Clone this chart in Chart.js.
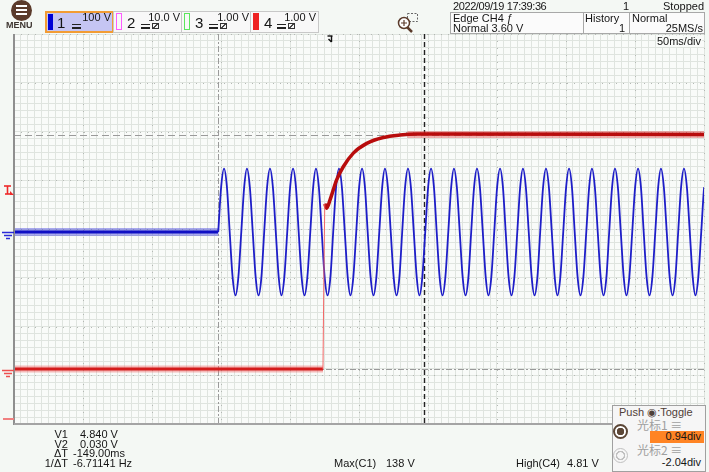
<!DOCTYPE html>
<html>
<head>
<meta charset="utf-8">
<script src="https://cdn.jsdelivr.net/npm/chart.js"></script>
<style>
  body { margin: 0; background: #f4f8f4; }
  #wrap { position: relative; width: 709px; height: 472px; overflow: hidden;
          font-family: "Liberation Sans", Arial, sans-serif; color: #151515; }
  canvas { position: absolute; left: 0; top: 0; }
  .t { position: absolute; font-size: 11px; line-height: 11px; white-space: pre; }
  .b { position: absolute; box-sizing: border-box; }
  .dc { position: absolute; width: 9px; height: 5px; box-sizing: border-box;
        border-top: 1px solid #222; border-bottom: 2px solid #222; }
  .ac { position: absolute; width: 7px; height: 6px; box-sizing: border-box; border: 1px solid #333;
        background: linear-gradient(135deg, transparent 40%, #333 45%, #333 55%, transparent 60%); }
</style>
</head>
<body>
<div id="wrap">
  <canvas id="scope" width="709" height="472"></canvas>

  <!-- menu button -->
  <div class="b" style="left:11px;top:0px;width:21px;height:21px;border-radius:50%;background:#5b3b2b"></div>
  <div class="b" style="left:16px;top:5px;width:11px;height:2px;background:#fff"></div>
  <div class="b" style="left:16px;top:9px;width:11px;height:2px;background:#fff"></div>
  <div class="b" style="left:16px;top:13px;width:11px;height:2px;background:#fff"></div>
  <div class="t" style="left:6px;top:21px;font-size:9px;line-height:9px;font-weight:bold;color:#3e3631">MENU</div>

  <!-- channel boxes -->
  <div class="b" style="left:45px;top:11px;width:69px;height:22px;border:2px solid #f29c34;background:#c5c5f3"></div>
  <div class="b" style="left:48px;top:14px;width:5px;height:16px;background:#0000d6"></div>
  <div class="t" style="left:57px;top:15px;font-size:15px;line-height:15px">1</div>
  <div class="t" style="right:598px;top:12px">100 V</div>
  <div class="dc" style="left:72px;top:24px"></div>

  <div class="b" style="left:113px;top:11px;width:69px;height:22px;border:1px solid #c8c8c8;background:#f8f8f8"></div>
  <div class="b" style="left:116px;top:13px;width:6px;height:17px;border:1px solid #ff5cff"></div>
  <div class="t" style="left:127px;top:15px;font-size:15px;line-height:15px">2</div>
  <div class="t" style="right:529px;top:12px">10.0 V</div>
  <div class="dc" style="left:141px;top:24px"></div>
  <div class="ac" style="left:152px;top:23px"></div>

  <div class="b" style="left:181px;top:11px;width:70px;height:22px;border:1px solid #c8c8c8;background:#f8f8f8"></div>
  <div class="b" style="left:184px;top:13px;width:6px;height:17px;border:1px solid #5ce65c"></div>
  <div class="t" style="left:195px;top:15px;font-size:15px;line-height:15px">3</div>
  <div class="t" style="right:460px;top:12px">1.00 V</div>
  <div class="dc" style="left:209px;top:24px"></div>
  <div class="ac" style="left:220px;top:23px"></div>

  <div class="b" style="left:250px;top:11px;width:69px;height:22px;border:1px solid #c8c8c8;background:#f8f8f8"></div>
  <div class="b" style="left:253px;top:13px;width:6px;height:17px;background:#ee2222"></div>
  <div class="t" style="left:264px;top:15px;font-size:15px;line-height:15px">4</div>
  <div class="t" style="right:393px;top:12px">1.00 V</div>
  <div class="dc" style="left:277px;top:24px"></div>
  <div class="ac" style="left:288px;top:23px"></div>

  <!-- zoom icon -->
  <svg style="position:absolute;left:396px;top:12px" width="24" height="22">
    <rect x="11.5" y="1.5" width="10" height="8" fill="none" stroke="#666" stroke-dasharray="2,1.5"/>
    <path d="M11 15l5 5" stroke="#5b3b2b" stroke-width="2.5"/>
    <circle cx="8" cy="11" r="5.5" fill="#fff" stroke="#5b3b2b" stroke-width="1.5"/>
    <path d="M5 11h6M8 8v6" stroke="#5b3b2b" stroke-width="1.2"/>
  </svg>

  <!-- status -->
  <div class="t" style="left:453px;top:1px;letter-spacing:-0.4px">2022/09/19 17:39:36</div>
  <div class="t" style="left:623px;top:1px">1</div>
  <div class="t" style="right:5px;top:1px">Stopped</div>
  <div class="b" style="left:450px;top:12px;width:255px;height:22px;border:1px solid #a8a8a8;background:#fbfbfb"></div>
  <div class="b" style="left:583px;top:12px;width:1px;height:22px;background:#a8a8a8"></div>
  <div class="b" style="left:629px;top:12px;width:1px;height:22px;background:#a8a8a8"></div>
  <div class="t" style="left:453px;top:13px">Edge CH4 ƒ</div>
  <div class="t" style="left:453px;top:23px">Normal 3.60 V</div>
  <div class="t" style="left:585px;top:13px">History</div>
  <div class="t" style="right:84px;top:23px">1</div>
  <div class="t" style="left:632px;top:13px">Normal</div>
  <div class="t" style="right:6px;top:23px">25MS/s</div>
  <div class="t" style="right:7px;top:36px;background:#f9fbf9;padding:0 1px">50ms/div</div>

  <!-- cursor readouts -->
  <div class="t" style="right:641px;top:429px">V1</div>
  <div class="t" style="left:80px;top:429px">4.840 V</div>
  <div class="t" style="right:641px;top:439px">V2</div>
  <div class="t" style="left:80px;top:439px">0.030 V</div>
  <div class="t" style="right:641px;top:448px">ΔT</div>
  <div class="t" style="left:73px;top:448px">-149.00ms</div>
  <div class="t" style="right:641px;top:458px">1/ΔT</div>
  <div class="t" style="left:73px;top:458px">-6.71141 Hz</div>
  <div class="t" style="left:334px;top:458px">Max(C1)</div>
  <div class="t" style="left:386px;top:458px">138 V</div>
  <div class="t" style="left:516px;top:458px">High(C4)</div>
  <div class="t" style="left:567px;top:458px">4.81 V</div>

  <!-- cursor panel -->
  <div class="b" style="left:612px;top:405px;width:94px;height:67px;border:1px solid #a0a0a0;background:#f6f6f6"></div>
  <div class="t" style="left:619px;top:407px;color:#4f4038">Push ◉:Toggle</div>
  <div class="b" style="left:613px;top:424px;width:15px;height:15px;border-radius:50%;border:2px solid #5b4636;background:radial-gradient(circle,#5b4636 0 3.5px,#fff 4px)"></div>
  <div class="t" style="left:637px;top:419px;font-size:12px;line-height:12px;color:#a0a0a0;font-family:'Noto Sans CJK SC',sans-serif">光标1 ≡</div>
  <div class="b" style="left:650px;top:431px;width:54px;height:12px;background:#ff8424"></div>
  <div class="t" style="right:8px;top:431px">0.94div</div>
  <div class="b" style="left:613px;top:448px;width:15px;height:15px;border-radius:50%;border:1px solid #c0c0c0;background:radial-gradient(circle,#f6f6f6 0 3px,#c0c0c0 3.5px 4.5px,#f6f6f6 5px)"></div>
  <div class="t" style="left:637px;top:444px;font-size:12px;line-height:12px;color:#a0a0a0;font-family:'Noto Sans CJK SC',sans-serif">光标2 ≡</div>
  <div class="t" style="right:8px;top:457px">-2.04div</div>
</div>

<script>
// time in ms (50 ms/div, 10 div on screen)

// CH1, 100 V/div: flat until the switch, then 60 Hz mains (eighth-period samples)
const ch1FlatT = [0, 148];
const ch1FlatV = [0, 0];
const ch1T = [
  148.0, 150.1, 152.2, 154.3, 156.3, 158.4, 160.5, 162.6,
  164.7, 166.8, 168.8, 170.9, 173.0, 175.1, 177.2, 179.3,
  181.3, 183.4, 185.5, 187.6, 189.7, 191.8, 193.8, 195.9,
  198.0, 200.1, 202.2, 204.3, 206.3, 208.4, 210.5, 212.6,
  214.7, 216.8, 218.8, 220.9, 223.0, 225.1, 227.2, 229.3,
  231.3, 233.4, 235.5, 237.6, 239.7, 241.8, 243.8, 245.9,
  248.0, 250.1, 252.2, 254.3, 256.3, 258.4, 260.5, 262.6,
  264.7, 266.8, 268.8, 270.9, 273.0, 275.1, 277.2, 279.3,
  281.3, 283.4, 285.5, 287.6, 289.7, 291.8, 293.8, 295.9,
  298.0, 300.1, 302.2, 304.3, 306.3, 308.4, 310.5, 312.6,
  314.7, 316.8, 318.8, 320.9, 323.0, 325.1, 327.2, 329.3,
  331.3, 333.4, 335.5, 337.6, 339.7, 341.8, 343.8, 345.9,
  348.0, 350.1, 352.2, 354.3, 356.3, 358.4, 360.5, 362.6,
  364.7, 366.8, 368.8, 370.9, 373.0, 375.1, 377.2, 379.3,
  381.3, 383.4, 385.5, 387.6, 389.7, 391.8, 393.8, 395.9,
  398.0, 400.1, 402.2, 404.3, 406.3, 408.4, 410.5, 412.6,
  414.7, 416.8, 418.8, 420.9, 423.0, 425.1, 427.2, 429.3,
  431.3, 433.4, 435.5, 437.6, 439.7, 441.8, 443.8, 445.9,
  448.0, 450.1, 452.2, 454.3, 456.3, 458.4, 460.5, 462.6,
  464.7, 466.8, 468.8, 470.9, 473.0, 475.1, 477.2, 479.3,
  481.3, 483.4, 485.5, 487.6, 489.7, 491.8, 493.8, 495.9,
  498.0, 500.1, 502.2];
const ch1V = [
  0, 92, 130, 92, 0, -92, -130, -92,
  0, 92, 130, 92, 0, -92, -130, -92,
  0, 92, 130, 92, 0, -92, -130, -92,
  0, 92, 130, 92, 0, -92, -130, -92,
  0, 92, 130, 92, 0, -92, -130, -92,
  0, 92, 130, 92, 0, -92, -130, -92,
  0, 92, 130, 92, 0, -92, -130, -92,
  0, 92, 130, 92, 0, -92, -130, -92,
  0, 92, 130, 92, 0, -92, -130, -92,
  0, 92, 130, 92, 0, -92, -130, -92,
  0, 92, 130, 92, 0, -92, -130, -92,
  0, 92, 130, 92, 0, -92, -130, -92,
  0, 92, 130, 92, 0, -92, -130, -92,
  0, 92, 130, 92, 0, -92, -130, -92,
  0, 92, 130, 92, 0, -92, -130, -92,
  0, 92, 130, 92, 0, -92, -130, -92,
  0, 92, 130, 92, 0, -92, -130, -92,
  0, 92, 130, 92, 0, -92, -130, -92,
  0, 92, 130, 92, 0, -92, -130, -92,
  0, 92, 130, 92, 0, -92, -130, -92,
  0, 92, 130, 92, 0, -92, -130, -92,
  0, 92, 130];

// CH4, 1 V/div: low level, fast edge, then settling to the high level
const ch4LowT = [0, 223.9];
const ch4LowV = [0.03, 0.03];
const ch4EdgeT = [223.9, 224.5, 225.2];
const ch4EdgeV = [0.03, 1.8, 3.42];
const ch4RiseT = [225.2, 226.6, 229.0, 233.8, 238.6, 245.9, 255.6, 267.6, 279.7, 291.8, 308.7, 500];
const ch4RiseV = [3.42, 3.33, 3.50, 3.91, 4.18, 4.46, 4.66, 4.78, 4.83, 4.85, 4.85, 4.84];
const ch4HighT = [285, 500];
const ch4HighV = [4.84, 4.84];

// cursors: time cursors (ms) and level cursors (V on CH4)
const cursorT = [297, 148];
const cursorV = [4.84, 0.03];
const triggerT = 229;
const triggerLevel = 3.6;

const pts = (xs, ys) => xs.map((x, i) => ({ x: x, y: ys[i] }));

function seg(ctx, x1, y1, x2, y2) {
  ctx.beginPath();
  ctx.moveTo(x1, y1);
  ctx.lineTo(x2, y2);
  ctx.stroke();
}

function groundMark(ctx, y, color) {
  ctx.strokeStyle = color;
  ctx.lineWidth = 1.5;
  seg(ctx, 2, y, 14, y);
  seg(ctx, 4, y + 3, 12, y + 3);
  seg(ctx, 6, y + 6, 10, y + 6);
}

const scopeDecor = {
  id: 'scopeDecor',
  beforeDraw(chart) {
    const { ctx, chartArea: a } = chart;
    ctx.save();
    ctx.fillStyle = '#f4f8f4';
    ctx.fillRect(0, 0, chart.width, chart.height);
    ctx.fillStyle = '#f9fbf9';
    ctx.fillRect(a.left, a.top, a.right - a.left, a.bottom - a.top);
    ctx.restore();
  },
  beforeDatasetsDraw(chart) {
    const { ctx, chartArea: a, scales } = chart;
    ctx.save();
    // major divisions, faint dotted
    ctx.strokeStyle = '#b4b8b4';
    ctx.lineWidth = 1;
    ctx.setLineDash([1, 6]);
    scales.xMajor.ticks.forEach(t => {
      const x = Math.round(scales.xMajor.getPixelForValue(t.value)) + 0.5;
      seg(ctx, x, a.top, x, a.bottom);
    });
    scales.yMajor.ticks.forEach(t => {
      const y = Math.round(scales.yMajor.getPixelForValue(t.value)) + 0.5;
      seg(ctx, a.left, y, a.right, y);
    });
    // level cursors
    ctx.strokeStyle = '#9a9a9a';
    ctx.setLineDash([7, 4]);
    let y = Math.round(scales.yC4.getPixelForValue(cursorV[0])) + 0.5;
    seg(ctx, a.left, y, a.right, y);
    ctx.setLineDash([6, 2, 2, 2]);
    y = Math.round(scales.yC4.getPixelForValue(cursorV[1])) + 0.5;
    seg(ctx, a.left, y, a.right, y);
    // time cursors
    let x = Math.round(scales.x.getPixelForValue(cursorT[1])) + 0.5;
    seg(ctx, x, a.top, x, a.bottom);
    ctx.strokeStyle = '#222';
    ctx.lineWidth = 1.4;
    ctx.setLineDash([5, 3]);
    x = Math.round(scales.x.getPixelForValue(cursorT[0])) + 0.5;
    seg(ctx, x, a.top, x, a.bottom);
    ctx.restore();
  },
  afterDraw(chart) {
    const { ctx, chartArea: a, scales } = chart;
    ctx.save();
    ctx.strokeStyle = '#8f8f8f';
    ctx.lineWidth = 2;
    seg(ctx, a.left, a.top, a.left, a.bottom + 1);
    ctx.strokeStyle = '#a4a4a4';
    seg(ctx, a.left, a.bottom, a.right, a.bottom);

    // ground markers
    groundMark(ctx, Math.round(scales.yC1.getPixelForValue(0)) + 0.5, '#2a2ad8');
    groundMark(ctx, Math.round(scales.yC4.getPixelForValue(0)) - 0.5, '#ee5050');
    ctx.strokeStyle = '#f08080';
    ctx.lineWidth = 2;
    seg(ctx, 3, 419, 14, 419);

    // trigger level marker
    const ty = Math.round(scales.yC4.getPixelForValue(triggerLevel));
    ctx.strokeStyle = '#ee2a2a';
    ctx.fillStyle = '#ee2a2a';
    ctx.lineWidth = 1.6;
    seg(ctx, 4, ty - 9, 11, ty - 9);
    seg(ctx, 7.5, ty - 9, 7.5, ty - 1);
    seg(ctx, 5, ty - 1, 10, ty - 1);
    ctx.beginPath();
    ctx.moveTo(10, ty - 4);
    ctx.lineTo(14, ty);
    ctx.lineTo(10, ty);
    ctx.closePath();
    ctx.fill();

    // trigger position marker
    const tx = Math.round(scales.x.getPixelForValue(triggerT)) + 0.5;
    ctx.strokeStyle = '#111';
    ctx.lineWidth = 1.4;
    seg(ctx, tx - 3, 36, tx + 2, 36);
    seg(ctx, tx + 1, 36, tx + 1, 42);
    seg(ctx, tx - 2, 39, tx + 1, 42);
    ctx.restore();
  }
};

const hidden = { display: false };

new Chart(document.getElementById('scope'), {
  type: 'line',
  data: {
    datasets: [
      { label: 'CH4 edge', data: pts(ch4EdgeT, ch4EdgeV), yAxisID: 'yC4',
        borderColor: 'rgba(242,96,96,0.95)', borderWidth: 1, order: 0 },
      { label: 'CH4 rise', data: pts(ch4RiseT, ch4RiseV), yAxisID: 'yC4',
        borderColor: '#b80c0c', borderWidth: 3.5, cubicInterpolationMode: 'monotone', order: 1 },
      { label: 'CH4 low', data: pts(ch4LowT, ch4LowV), yAxisID: 'yC4',
        borderColor: '#d41c1c', borderWidth: 3, order: 2 },
      { label: 'CH4 low noise', data: pts(ch4LowT, ch4LowV), yAxisID: 'yC4',
        borderColor: 'rgba(240,90,90,0.4)', borderWidth: 7, order: 3 },
      { label: 'CH4 high noise', data: pts(ch4HighT, ch4HighV), yAxisID: 'yC4',
        borderColor: 'rgba(230,60,60,0.4)', borderWidth: 7, order: 3 },
      { label: 'CH1', data: pts(ch1T, ch1V), yAxisID: 'yC1',
        borderColor: '#1e1ec8', borderWidth: 1.8, cubicInterpolationMode: 'monotone', order: 4 },
      { label: 'CH1 flat', data: pts(ch1FlatT, ch1FlatV), yAxisID: 'yC1',
        borderColor: '#0f0fc4', borderWidth: 3, order: 5 },
      { label: 'CH1 flat noise', data: pts(ch1FlatT, ch1FlatV), yAxisID: 'yC1',
        borderColor: 'rgba(40,40,220,0.38)', borderWidth: 8, order: 6 }
    ]
  },
  options: {
    responsive: false,
    animation: false,
    events: [],
    layout: { padding: { left: 14, right: 5, top: 34, bottom: 48 } },
    plugins: { legend: hidden, tooltip: { enabled: false } },
    elements: { point: { radius: 0 }, line: { fill: false } },
    scales: {
      x: { type: 'linear', axis: 'x', position: 'bottom', min: 0, max: 500,
           ticks: { display: false, stepSize: 5 },
           grid: { color: '#dfe4df', drawTicks: false }, border: hidden },
      xMajor: { type: 'linear', axis: 'x', position: 'bottom', display: false, min: 0, max: 500,
                ticks: { stepSize: 50 } },
      yMinor: { type: 'linear', axis: 'y', position: 'left', min: 0, max: 56,
                ticks: { display: false, stepSize: 1 },
                grid: { color: '#dfe4df', drawTicks: false }, border: hidden },
      yMajor: { type: 'linear', axis: 'y', position: 'left', display: false, min: 0, max: 8,
                ticks: { stepSize: 1 } },
      yC1: { type: 'linear', axis: 'y', position: 'left', display: false, min: -393.8, max: 406.2 },
      yC4: { type: 'linear', axis: 'y', position: 'left', display: false, min: -1.097, max: 6.903 }
    }
  },
  plugins: [scopeDecor]
});
</script>
</body>
</html>
